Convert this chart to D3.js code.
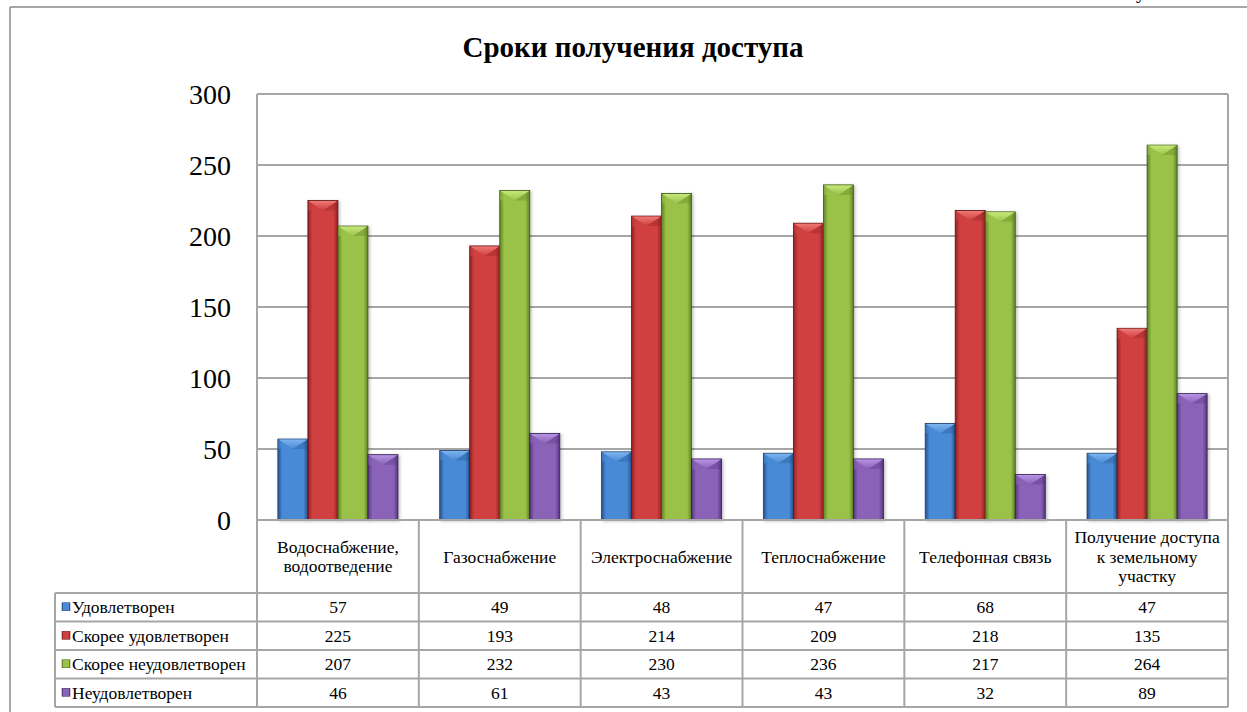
<!DOCTYPE html>
<html><head><meta charset="utf-8">
<script src="https://cdn.jsdelivr.net/npm/d3@7"></script>
<style>body{margin:0;background:#fff}svg{display:block}</style>
</head><body><svg id="c" width="1247" height="712"></svg>
<script>
const title = "Сроки получения доступа";
const categories = [
  ["Водоснабжение,", "водоотведение"],
  ["Газоснабжение"],
  ["Электроснабжение"],
  ["Теплоснабжение"],
  ["Телефонная связь"],
  ["Получение доступа", "к земельному", "участку"]
];
const seriesNames = ["Удовлетворен", "Скорее удовлетворен", "Скорее неудовлетворен", "Неудовлетворен"];
const udovl = [57, 49, 48, 47, 68, 47];
const skUdovl = [225, 193, 214, 209, 218, 135];
const skNeudovl = [207, 232, 230, 236, 217, 264];
const neudovl = [46, 61, 43, 43, 32, 89];
const seriesValues = [udovl, skUdovl, skNeudovl, neudovl];
const yTicks = [0, 50, 100, 150, 200, 250, 300];
const colors = [
  {mid:"#4a8ad6", dark:"#25528f", light:"#7fb6f0", edge:"#1d3f6e"},
  {mid:"#d0403f", dark:"#8e2223", light:"#f07a78", edge:"#5e1414"},
  {mid:"#9ac24a", dark:"#5f8224", light:"#c9ea7d", edge:"#3f5a14"},
  {mid:"#8a62b8", dark:"#55367e", light:"#b996e6", edge:"#34204f"}
];
const FONT = "Liberation Serif";

const svg = d3.select("#c").attr("font-family", FONT);
const L = 257, R = 1228, T = 94, B = 520;
const tableLeft = 55;
const headerBottom = 593, rowH = 28.5;
const TFS = 17.5;

// outer frame
svg.append("line").attr("x1",10).attr("x2",1247).attr("y1",7).attr("y2",7).attr("stroke","#8a8a8a").attr("stroke-width",1.5);
svg.append("line").attr("x1",10).attr("x2",10).attr("y1",7).attr("y2",712).attr("stroke","#8a8a8a").attr("stroke-width",1.5);
svg.append("text").attr("x",1136).attr("y",-2).attr("font-size",20).attr("font-family",FONT).text("у");

svg.append("text").attr("x",633).attr("y",57).attr("text-anchor","middle").attr("font-family",FONT)
  .attr("font-size",29).attr("font-weight","bold").text(title);

const y = d3.scaleLinear().domain([0,300]).range([B,T]);
const x0 = d3.scaleBand().domain(d3.range(categories.length)).range([L,R]);
const inner = x0.bandwidth()*0.742;
const x1 = d3.scaleBand().domain(d3.range(seriesNames.length)).range([0,inner]);

// gradients
const defs = svg.append("defs");
colors.forEach((c,i)=>{
  const g = defs.append("linearGradient").attr("id","g"+i).attr("x1","0").attr("x2","1").attr("y1","0").attr("y2","0");
  g.append("stop").attr("offset","0").attr("stop-color",c.dark);
  g.append("stop").attr("offset","0.15").attr("stop-color",c.mid);
  g.append("stop").attr("offset","0.5").attr("stop-color",c.mid);
  g.append("stop").attr("offset","0.85").attr("stop-color",c.mid);
  g.append("stop").attr("offset","1").attr("stop-color",c.dark);
  const t = defs.append("linearGradient").attr("id","t"+i).attr("x1","0").attr("x2","0").attr("y1","0").attr("y2","1");
  t.append("stop").attr("offset","0").attr("stop-color",c.light);
  t.append("stop").attr("offset","1").attr("stop-color",c.mid);
});
const sh = defs.append("filter").attr("id","sh").attr("x","-30%").attr("y","-10%").attr("width","160%").attr("height","120%");
sh.append("feDropShadow").attr("dx",1.5).attr("dy",1).attr("stdDeviation",1.5).attr("flood-color","#000").attr("flood-opacity",0.25);

// gridlines
svg.append("g").selectAll("line").data(yTicks).join("line")
  .attr("x1",L).attr("x2",R).attr("y1",d=>y(d)).attr("y2",d=>y(d))
  .attr("stroke","#a6a6a6").attr("stroke-width",2);

// y axis labels
svg.append("g").selectAll("text").data(yTicks).join("text")
  .attr("x",231).attr("y",d=>y(d)+10).attr("text-anchor","end").attr("font-size",28).attr("font-family",FONT).text(d=>d);

// bars
const gs = svg.append("g").selectAll("g").data(categories).join("g")
  .attr("transform",(d,i)=>`translate(${x0(i)+(x0.bandwidth()-inner)/2},0)`);
gs.each(function(cat,ci){
  const g = d3.select(this);
  seriesValues.forEach((vals,si)=>{
    const bx = x1(si), bw = x1.bandwidth(), by = y(vals[ci]), bh = B - by;
    const bg = g.append("g").attr("filter","url(#sh)");
    bg.append("rect").attr("x",bx).attr("y",by).attr("width",bw).attr("height",bh)
      .attr("fill",`url(#g${si})`).attr("stroke",colors[si].edge).attr("stroke-width",0.8);
    const bev = Math.min(10, bh);
    bg.append("polygon").attr("points",`${bx+0.5},${by+0.5} ${bx+bw-0.5},${by+0.5} ${bx+bw/2},${by+bev}`)
      .attr("fill",`url(#t${si})`).attr("opacity",0.95);
    bg.append("polygon").attr("points",`${bx+0.5},${by+0.5} ${bx+bw/2},${by+bev} ${bx+0.5},${by+bev}`)
      .attr("fill",colors[si].mid).attr("opacity",0.6);
    bg.append("polygon").attr("points",`${bx+bw-0.5},${by+0.5} ${bx+bw/2},${by+bev} ${bx+bw-0.5},${by+bev}`)
      .attr("fill",colors[si].dark).attr("opacity",0.35);
  });
});
svg.append("line").attr("x1",L).attr("x2",R).attr("y1",B).attr("y2",B).attr("stroke","#a6a6a6").attr("stroke-width",2);

// table
const tbl = svg.append("g").attr("stroke","#a6a6a6").attr("stroke-width",2);
const bounds = d3.range(categories.length+1).map(i=> i<categories.length ? x0(i) : R);
tbl.selectAll("line.v").data(bounds).join("line")
  .attr("x1",d=>d).attr("x2",d=>d).attr("y1",d=> (d===L||d===R)? T : B).attr("y2",headerBottom+4*rowH);
const rows = d3.range(5).map(i=>headerBottom+i*rowH);
tbl.selectAll("line.h").data(rows).join("line")
  .attr("x1",tableLeft).attr("x2",R).attr("y1",d=>d).attr("y2",d=>d);
tbl.append("line").attr("x1",tableLeft).attr("x2",tableLeft).attr("y1",headerBottom).attr("y2",headerBottom+4*rowH);

// header category labels
const hc = (B+headerBottom)/2;
categories.forEach((lines,ci)=>{
  const cx = x0(ci)+x0.bandwidth()/2;
  const lh = 19.5;
  lines.forEach((ln,li)=>{
    svg.append("text").attr("x",cx).attr("y",hc + (li-(lines.length-1)/2)*lh + 6)
      .attr("text-anchor","middle").attr("font-size",TFS).attr("font-family",FONT).text(ln);
  });
});

// rows
seriesNames.forEach((name,si)=>{
  const ry = headerBottom + si*rowH + rowH/2;
  svg.append("rect").attr("x",62).attr("y",ry-4.5).attr("width",8).attr("height",8)
    .attr("fill",`url(#g${si})`).attr("stroke",colors[si].edge).attr("stroke-width",0.5);
  svg.append("text").attr("x",72).attr("y",ry+6).attr("font-size",TFS).attr("font-family",FONT).text(name);
  seriesValues[si].forEach((v,ci)=>{
    svg.append("text").attr("x",x0(ci)+x0.bandwidth()/2).attr("y",ry+6)
      .attr("text-anchor","middle").attr("font-size",TFS).attr("font-family",FONT).text(v);
  });
});
</script></body></html>
